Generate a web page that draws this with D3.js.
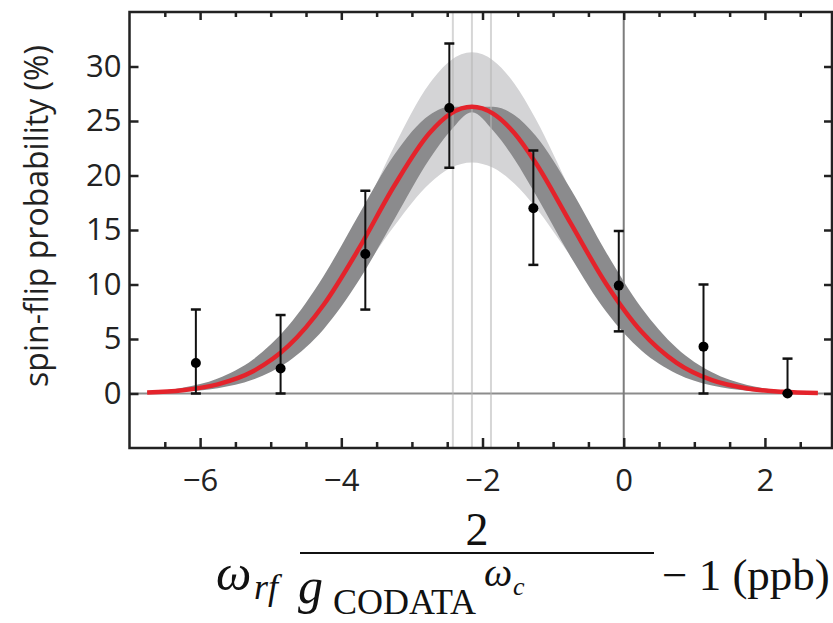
<!DOCTYPE html>
<html lang="en">
<head>
<meta charset="UTF-8" />
<script src="https://d3js.org/d3.v7.min.js"></script>
<style>
  body { margin: 0; background: #fff; }
  .tick line { stroke: #222; stroke-width: 2.5; }
  .math { font-family: "Liberation Serif", "DejaVu Serif", serif; fill: #111; }
</style>
</head>
<body>
<svg id="chart" width="833" height="623"></svg>
<script>
var pointX = [-6.06, -4.86, -3.66, -2.47, -1.28, -0.07, 1.13, 2.32];
var pointY = [2.8, 2.3, 12.8, 26.2, 17.0, 9.9, 4.3, 0.0];
var errLow = [0.0, 0.0, 7.7, 20.7, 11.8, 5.7, 0.0, 0.0];
var errHigh = [7.7, 7.2, 18.6, 32.1, 22.3, 14.9, 10.0, 3.2];

// fitted line and the two shaded bands
var curveX = [-6.75, -6.25, -5.75, -5.25, -4.75, -4.25, -3.75, -3.25, -2.75, -2.45, -2.15,
              -1.85, -1.55, -1.25, -0.75, -0.25, 0.25, 0.75, 1.25, 1.75, 2.25, 2.75];
var fitY = [0.09, 0.30, 0.84, 2.04, 4.36, 8.14, 13.31, 19.06, 23.90, 25.68, 26.30,
            25.68, 23.90, 21.20, 15.61, 10.07, 5.68, 2.81, 1.22, 0.46, 0.15, 0.04];
var darkLo = [0.05, 0.16, 0.49, 1.28, 2.94, 5.90, 10.38, 15.96, 21.51, 24.12, 25.80,
              24.12, 21.51, 18.27, 12.53, 7.52, 3.95, 1.82, 0.73, 0.26, 0.08, 0.02];
var darkHi = [0.18, 0.53, 1.38, 3.12, 6.21, 10.79, 16.43, 21.90, 25.55, 26.30, 26.30,
              26.30, 25.55, 23.66, 18.73, 12.97, 7.87, 4.18, 1.94, 0.79, 0.28, 0.09];
var lightLo = [0.07, 0.24, 0.68, 1.64, 3.51, 6.56, 10.73, 15.36, 19.26, 20.70, 21.20,
               20.70, 19.26, 17.09, 12.58, 8.12, 4.58, 2.26, 0.98, 0.37, 0.12, 0.03];
var lightHi = [0.11, 0.36, 1.00, 2.43, 5.19, 9.69, 15.84, 22.68, 28.44, 30.56, 31.30,
               30.56, 28.44, 25.23, 18.58, 11.98, 6.76, 3.34, 1.45, 0.55, 0.18, 0.05];

// resonance centre and its uncertainty
var centreLines = [-2.42, -2.15, -1.88];

var xTicks = [-6, -4, -2, 0, 2];
var xTickLabels = ['\u22126', '\u22124', '\u22122', '0', '2'];
var yTicks = [0, 5, 10, 15, 20, 25, 30];

var svg = d3.select('#chart');
var pLeft = 129.5, pRight = 832, pTop = 12, pBottom = 448;

var x = d3.scaleLinear().domain([-7, 2.95]).range([pLeft, pRight]);
var y = d3.scaleLinear().domain([-5, 35]).range([pBottom, pTop]);

svg.append('clipPath').attr('id', 'plot')
  .append('rect').attr('x', pLeft).attr('y', pTop)
  .attr('width', pRight - pLeft).attr('height', pBottom - pTop);

var plot = svg.append('g').attr('clip-path', 'url(#plot)');

// zero lines
plot.append('line')
  .attr('x1', pLeft).attr('x2', pRight).attr('y1', y(0)).attr('y2', y(0))
  .attr('stroke', '#8c8c8c').attr('stroke-width', 2);
plot.append('line')
  .attr('x1', x(0)).attr('x2', x(0)).attr('y1', pTop).attr('y2', pBottom)
  .attr('stroke', '#7d7d7d').attr('stroke-width', 2);

var idx = d3.range(curveX.length);

var area = function(lo, hi) {
  return d3.area()
    .x(function(i) { return x(curveX[i]); })
    .y0(function(i) { return y(lo[i]); })
    .y1(function(i) { return y(hi[i]); })
    .curve(d3.curveMonotoneX);
};

plot.append('path').datum(idx).attr('d', area(lightLo, lightHi)).attr('fill', '#d4d4d6');
plot.append('path').datum(idx).attr('d', area(darkLo, darkHi)).attr('fill', '#8b8b8d');

plot.selectAll('.centre').data(centreLines).enter().append('line')
  .attr('class', 'centre')
  .attr('x1', function(d) { return x(d); }).attr('x2', function(d) { return x(d); })
  .attr('y1', pTop).attr('y2', pBottom)
  .attr('stroke', '#b4b4b4').attr('stroke-opacity', 0.55).attr('stroke-width', 2);

var line = d3.line()
  .x(function(i) { return x(curveX[i]); })
  .y(function(i) { return y(fitY[i]); })
  .curve(d3.curveMonotoneX);

plot.append('path').datum(idx).attr('d', line)
  .attr('fill', 'none').attr('stroke', '#e4232b').attr('stroke-width', 4.5);

// error bars and points
var pts = plot.append('g');
pts.selectAll('.stem').data(pointX).enter().append('line')
  .attr('x1', function(d) { return x(d); }).attr('x2', function(d) { return x(d); })
  .attr('y1', function(d, i) { return y(errLow[i]); })
  .attr('y2', function(d, i) { return y(errHigh[i]); })
  .attr('stroke', '#111').attr('stroke-width', 2);
[errLow, errHigh].forEach(function(arr) {
  pts.selectAll(null).data(pointX).enter().append('line')
    .attr('x1', function(d) { return x(d) - 5; }).attr('x2', function(d) { return x(d) + 5; })
    .attr('y1', function(d, i) { return y(arr[i]); })
    .attr('y2', function(d, i) { return y(arr[i]); })
    .attr('stroke', '#111').attr('stroke-width', 2.5);
});
pts.selectAll('circle').data(pointX).enter().append('circle')
  .attr('cx', function(d) { return x(d); })
  .attr('cy', function(d, i) { return y(pointY[i]); })
  .attr('r', 5).attr('fill', '#000');

// axes, ticks pointing inwards
var xMinor = d3.range(-6.5, 3, 0.5).filter(function(v) { return xTicks.indexOf(v) < 0; });

function tidy(g) {
  g.select('.domain').remove();
  g.selectAll('.tick text')
    .style('font-family', '"Open Sans", "Noto Sans", sans-serif')
    .style('font-size', '31px').style('fill', '#222');
}

svg.append('g').attr('transform', 'translate(0,' + pBottom + ')')
  .call(d3.axisBottom(x).tickValues(xMinor).tickSize(-6).tickFormat('')).call(tidy);
svg.append('g').attr('transform', 'translate(0,' + pBottom + ')')
  .call(d3.axisBottom(x).tickValues(xTicks).tickSize(-10).tickPadding(21)
    .tickFormat(function(d, i) { return xTickLabels[i]; })).call(tidy);
svg.append('g').attr('transform', 'translate(0,' + pTop + ')')
  .call(d3.axisTop(x).tickValues(xMinor).tickSize(-5).tickFormat('')).call(tidy);
svg.append('g').attr('transform', 'translate(0,' + pTop + ')')
  .call(d3.axisTop(x).tickValues(xTicks).tickSize(-8).tickFormat('')).call(tidy);
svg.append('g').attr('transform', 'translate(' + pLeft + ',0)')
  .call(d3.axisLeft(y).tickValues(yTicks).tickSize(-9).tickPadding(8)).call(tidy);
svg.append('g').attr('transform', 'translate(' + pRight + ',0)')
  .call(d3.axisRight(y).tickValues(yTicks).tickSize(-8).tickFormat('')).call(tidy);

svg.append('rect')
  .attr('x', pLeft).attr('y', pTop).attr('width', pRight - pLeft).attr('height', pBottom - pTop)
  .attr('fill', 'none').attr('stroke', '#222').attr('stroke-width', 2.5);

// y title
svg.append('text')
  .attr('transform', 'translate(48,216) rotate(-90)')
  .attr('text-anchor', 'middle')
  .style('font-family', '"Open Sans", "Noto Sans", sans-serif')
  .style('font-size', '32px').style('fill', '#222')
  .text('spin-flip probability (%)');

// x title, written as a fraction
var m = svg.append('g').attr('class', 'math');
m.append('text').attr('x', 216).attr('y', 590).style('font-size', '50px').style('font-style', 'italic').text('\u03c9');
m.append('text').attr('x', 254).attr('y', 599).style('font-size', '36px').style('font-style', 'italic').text('rf');
m.append('text').attr('x', 477).attr('y', 545).attr('text-anchor', 'middle').style('font-size', '46px').text('2');
m.append('line').attr('x1', 300).attr('x2', 654).attr('y1', 553).attr('y2', 553)
  .attr('stroke', '#111').attr('stroke-width', 2.2);
m.append('text').attr('x', 298).attr('y', 603).style('font-size', '50px').style('font-style', 'italic').text('g');
m.append('text').attr('x', 333).attr('y', 614).style('font-size', '36px').text('CODATA');
m.append('text').attr('x', 484).attr('y', 586).style('font-size', '40px').style('font-style', 'italic').text('\u03c9');
m.append('text').attr('x', 513).attr('y', 595).style('font-size', '26px').style('font-style', 'italic').text('c');
m.append('text').attr('x', 662).attr('y', 590).style('font-size', '45px').text('\u2212 1 (ppb)');
</script>
</body>
</html>
